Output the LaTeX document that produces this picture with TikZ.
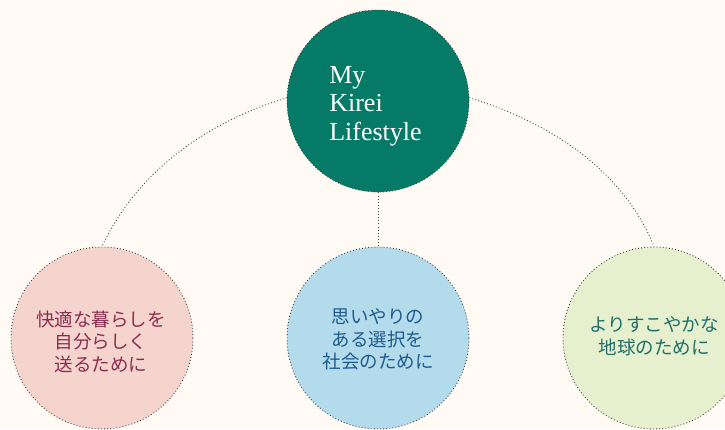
\documentclass[tikz,border=0pt]{standalone}
\usepackage{fontspec}
\setmainfont{Liberation Serif}
\newfontfamily\cjk{Noto Sans CJK JP}
\definecolor{bgcol}{HTML}{FFFBF4}
\definecolor{topfill}{HTML}{057B67}
\definecolor{leftfill}{HTML}{F5D4CE}
\definecolor{midfill}{HTML}{B4DBEC}
\definecolor{rightfill}{HTML}{E6EFCE}
\definecolor{lefttext}{HTML}{8C2D50}
\definecolor{midtext}{HTML}{1E5C8E}
\definecolor{righttext}{HTML}{20706A}
\definecolor{dotcol}{HTML}{404040}
\begin{document}
\begin{tikzpicture}[x=1pt,y=1pt,
  dotline/.style={draw=dotcol, line width=0.9pt, dash pattern=on 0.9pt off 2.2pt},
  bubble/.style={circle, minimum size=182pt, inner sep=0pt, dotline},
  jtext/.style={font=\cjk\fontsize{18.5}{22.5}\selectfont, align=center, inner sep=0pt},
  conn/.style={dotline}]
\fill[bgcol] (0,0) rectangle (725,429);
\useasboundingbox (0,0) rectangle (725,429);
\clip (0,0) rectangle (725,429);
\node[bubble, fill=topfill] (top) at (378,328) {};
\node[bubble, fill=leftfill] (left) at (102,91) {};
\node[bubble, fill=midfill] (mid) at (378,91) {};
\node[bubble, fill=rightfill] (right) at (654,91) {};
\node[align=left, inner sep=0pt, text=white, font=\fontsize{26}{28.5}\selectfont] (toptext) at (375.5,323) {My\\Kirei\\Lifestyle};
\node[jtext, text=lefttext] (lefttxt) at (101,87.5) {快適な暮らしを\\自分らしく\\送るために};
\node[jtext, text=midtext] (midtxt) at (378,89.5) {思いやりの\\ある選択を\\社会のために};
\node[jtext, text=righttext] (righttxt) at (654,92.5) {よりすこやかな\\地球のために};
\draw[conn] (top.178) to[out=197, in=65, looseness=0.9] (left.north);
\draw[conn] (top.2) to[out=-17, in=112, looseness=0.9] (right.north);
\draw[conn] (top.south) -- (mid.north);
\end{tikzpicture}
\end{document}
